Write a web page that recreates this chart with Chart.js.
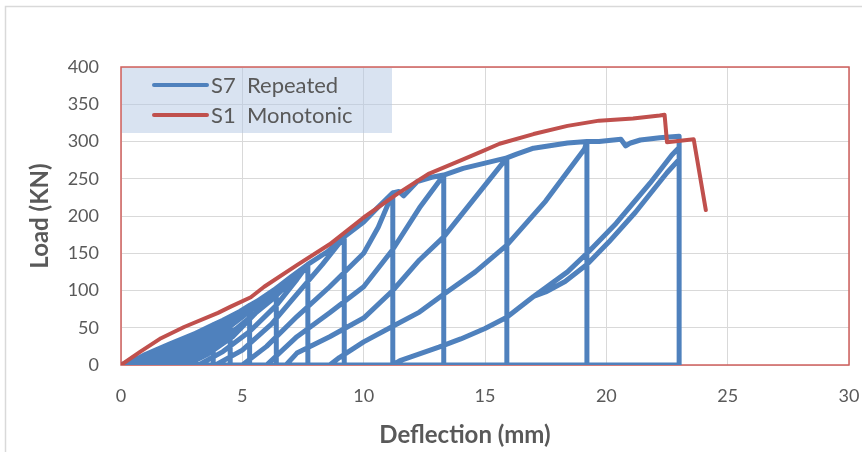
<!DOCTYPE html>
<html><head><meta charset="utf-8">
<script src="https://cdn.jsdelivr.net/npm/chart.js@4.4.1/dist/chart.umd.min.js"></script>
<style>html,body{margin:0;padding:0;background:#fff}#wrap{width:862px;height:452px;position:relative}</style>
</head><body><div id="wrap"><canvas id="c" width="862" height="452"></canvas></div>
<script>
const xTickStep = 5;
const yTickStep = 50;
const xRange = [0, 30];
const yRange = [0, 400];
const seriesNames = ['S7  Repeated', 'S1  Monotonic'];
const axisTitles = ['Deflection (mm)', 'Load (KN)'];

// S7 repeated loading: envelope, vertical unloading, return along zero, reloading
const s7Deflection = [
  0, 0.6, 1.3,
  1.3, 0.3, 0.8, 1.3,
  1.8, 2.2,
  2.2, 0.6, 1.2, 1.7, 2.2,
  2.2, 0.2, 0.9, 1.6, 2.2,
  2.7, 3.1,
  3.1, 1.0, 1.6, 2.2, 2.7, 3.1,
  3.1, 0.5, 1.3, 2.1, 3.1,
  3.1, 0.2, 1.0, 2.0, 3.1,
  3.5, 3.8,
  3.8, 1.3, 2.0, 2.7, 3.3, 3.8,
  3.8, 0.8, 1.7, 2.7, 3.8,
  3.8, 0.3, 1.2, 2.4, 3.8,
  4.2, 4.5,
  4.5, 1.7, 2.4, 3.2, 3.9, 4.5,
  4.5, 1.0, 2.0, 3.0, 3.8, 4.5,
  4.5, 0.5, 1.5, 2.8, 4.5,
  4.9, 5.3,
  5.3, 2.2, 3.0, 3.8, 4.6, 5.3,
  5.3, 1.4, 2.4, 3.4, 4.4, 5.3,
  5.3, 0.7, 1.8, 3.2, 4.3, 5.3,
  5.9, 6.4,
  6.4, 2.7, 3.6, 4.6, 5.5, 6.4,
  6.4, 1.9, 3.0, 4.1, 5.3, 6.4,
  6.4, 1.0, 2.2, 3.6, 5.0, 6.4,
  7.0, 7.7,
  7.7, 3.2, 4.2, 5.3, 6.4, 7.25, 7.7,
  7.7, 2.4, 3.6, 4.8, 6.3, 7.7,
  7.7, 1.5, 2.8, 4.2, 6.0, 7.7,
  8.5, 9.2,
  9.2, 3.9, 5.0, 6.2, 7.25, 8.3, 9.2,
  10.0, 10.6, 11.2,
  11.2, 5.0, 6.0, 7.25, 8.6, 10.0, 10.6, 11.2,
  11.45, 11.65, 12.2, 12.8, 13.3,
  13.3, 6.0, 7.25, 8.6, 10.0, 11.2, 12.3, 13.3,
  14.1, 15.0, 15.9,
  15.9, 6.8, 7.25, 8.6, 10.0, 11.2, 12.3, 13.3, 14.6, 15.9,
  16.3, 17.0, 18.4, 19.2,
  19.2, 8.6, 9.0, 10.0, 11.2, 12.3, 13.3, 14.6, 15.9, 17.5, 19.1, 19.2,
  19.7, 20.6, 20.8, 21.0, 21.4, 22.2, 23.0,
  23.0, 11.2, 11.5, 12.3, 13.1, 14.0, 15.0, 15.9, 17.0, 18.4, 19.3, 20.4, 21.8, 22.7, 23.0,
  23.0, 22.5, 21.2, 20.1, 19.2, 18.3, 17.5, 17.0,
  18.4, 19.3, 20.4, 21.8, 22.7, 23.0,
  23.0
];
const s7Load = [
  0, 8, 17,
  0, 0, 6, 17,
  24, 30,
  0, 0, 8, 17, 30,
  0, 0, 10, 20, 30,
  37, 43,
  0, 0, 9, 20, 32, 43,
  0, 0, 12, 26, 43,
  0, 0, 14, 28, 43,
  49, 54,
  0, 0, 11, 25, 40, 54,
  0, 0, 15, 32, 54,
  0, 0, 15, 32, 54,
  60, 65,
  0, 0, 12, 28, 46, 65,
  0, 0, 16, 34, 50, 65,
  0, 0, 17, 36, 65,
  72, 80,
  0, 0, 13, 32, 55, 80,
  0, 0, 17, 36, 58, 80,
  0, 0, 18, 40, 58, 80,
  91, 103,
  0, 0, 15, 38, 68, 103,
  0, 0, 18, 42, 72, 103,
  0, 0, 20, 45, 72, 103,
  118, 135,
  0, 0, 18, 45, 80, 115, 135,
  0, 0, 22, 50, 90, 135,
  0, 0, 22, 50, 88, 135,
  152, 172,
  0, 0, 20, 55, 95, 135, 172,
  192, 212, 231,
  0, 0, 25, 65, 105, 150, 185, 231,
  233, 227, 246, 252, 255,
  0, 0, 38, 70, 105, 155, 211, 255,
  264, 271, 278,
  0, 0, 16, 38, 63, 100, 141, 172, 225, 278,
  283, 291, 298, 300,
  0, 0, 10, 31, 52, 71, 95, 125, 161, 220, 290, 300,
  300, 303, 294, 298, 302, 305, 307,
  0, 0, 6, 15, 24, 35, 49, 64, 92, 125, 153, 190, 244, 282, 292,
  276, 258, 205, 165, 135, 112, 98, 92,
  125, 153, 190, 244, 282, 292,
  0
];

// S1 monotonic loading
const s1Deflection = [0, 0.8, 1.65, 2.6, 4.0, 4.5, 5.35, 5.9, 7.25, 8.6, 10.0, 11.4, 12.7, 14.1, 14.9, 15.6, 17.0, 18.4, 19.7, 21.1, 22.2, 22.4, 22.5, 23.6, 24.1];
const s1Load =       [0, 18, 36, 51, 70, 78, 91, 105, 134, 162, 198, 230, 257, 276, 287, 297, 310, 321, 328, 331, 335, 336, 299, 303, 208];

const blue = '#4f81bd';
const red = '#c0504d';
const textColor = '#595959';
const FONT = 'Lato, "Open Sans", sans-serif';

function pts(xs, ys) { return xs.map((x, i) => ({x: x, y: ys[i]})); }

const frame = {
  id: 'frame',
  beforeDraw(chart) {
    const ctx = chart.ctx;
    ctx.save();
    ctx.fillStyle = '#fff';
    ctx.fillRect(0, 0, chart.width, chart.height);
    ctx.strokeStyle = '#d9d9d9';
    ctx.lineWidth = 1.5;
    ctx.strokeRect(5.5, 6.5, 900, 500);
    ctx.restore();
  },
  beforeDatasetsDraw(chart) {
    const ctx = chart.ctx, a = chart.chartArea;
    ctx.save();
    ctx.strokeStyle = '#cf5f5c';
    ctx.lineWidth = 1.5;
    ctx.strokeRect(a.left, a.top, a.right - a.left, a.bottom - a.top);
    ctx.restore();
  },
  afterDatasetsDraw(chart) {
    const ctx = chart.ctx, a = chart.chartArea;
    ctx.save();
    ctx.fillStyle = 'rgba(180,200,228,0.5)';
    ctx.fillRect(a.left + 1, a.top + 1, 270, 65);
    const entries = [chart.data.datasets[0], chart.data.datasets[1]];
    entries.forEach((ds, i) => {
      const y = a.top + 18 + i * 30;
      ctx.strokeStyle = ds.borderColor;
      ctx.lineWidth = 4;
      ctx.lineCap = 'round';
      ctx.beginPath();
      ctx.moveTo(a.left + 33, y);
      ctx.lineTo(a.left + 86, y);
      ctx.stroke();
      ctx.fillStyle = textColor;
      ctx.font = '22px ' + FONT;
      ctx.textBaseline = 'middle';
      ctx.textAlign = 'left';
      ctx.fillText(ds.label, a.left + 90, y + 1);
    });
    // x axis title
    ctx.font = 'bold 24px ' + FONT;
    ctx.textAlign = 'center';
    ctx.textBaseline = 'middle';
    ctx.fillStyle = textColor;
    ctx.fillText(axisTitles[0], 465, 435);
    ctx.restore();
  }
};

new Chart(document.getElementById('c'), {
  type: 'scatter',
  data: {
    datasets: [
      {label: seriesNames[0], data: pts(s7Deflection, s7Load), showLine: true, borderColor: blue, backgroundColor: blue,
       borderWidth: 5, pointRadius: 0, borderJoinStyle: 'round', borderCapStyle: 'round', order: 1, tension: 0},
      {label: seriesNames[1], data: pts(s1Deflection, s1Load), showLine: true, borderColor: red, backgroundColor: red,
       borderWidth: 4, pointRadius: 0, borderJoinStyle: 'round', borderCapStyle: 'round', order: 0, tension: 0}
    ]
  },
  plugins: [frame],
  options: {
    responsive: false,
    animation: false,
    devicePixelRatio: 1,
    layout: {padding: {top: 67, right: 13, left: 0, bottom: 0}},
    plugins: {legend: {display: false}, tooltip: {enabled: false}},
    scales: {
      x: {
        type: 'linear', min: xRange[0], max: xRange[1],
        ticks: {stepSize: xTickStep, color: textColor, font: {family: FONT, size: 18}, padding: 20},
        grid: {color: '#d9d9d9', lineWidth: 1, drawTicks: false},
        border: {display: false},
        title: {display: false},
        afterFit(s) { s.height = 87; s.paddingLeft = 0; s.paddingRight = 0; }
      },
      y: {
        type: 'linear', min: yRange[0], max: yRange[1],
        ticks: {stepSize: yTickStep, color: textColor, font: {family: FONT, size: 18}, padding: 22},
        grid: {color: '#d9d9d9', lineWidth: 1, drawTicks: false},
        border: {display: false},
        title: {display: true, text: axisTitles[1], color: textColor, font: {family: FONT, size: 24, weight: 'bold'}, padding: {top: 26, bottom: 0}},
        afterFit(s) { s.width = 121; s.paddingTop = 0; s.paddingBottom = 0; }
      }
    }
  }
});
</script>
</body></html>
